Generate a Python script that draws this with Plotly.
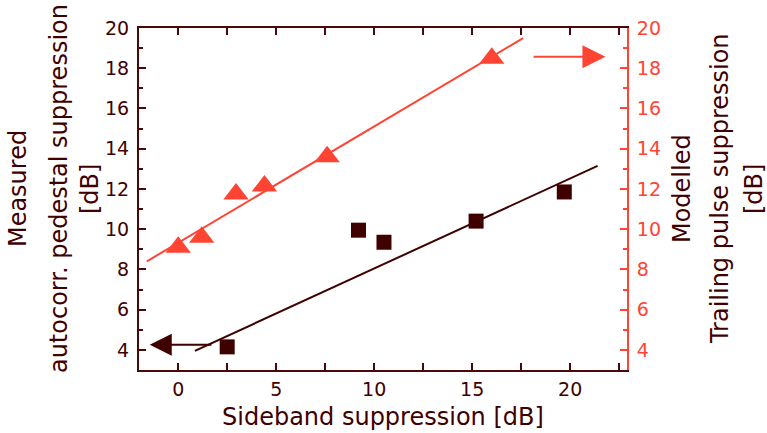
import plotly.graph_objects as go

# Measured autocorrelation pedestal suppression (left axis)
measured_x = [2.5, 9.2, 10.5, 15.2, 19.7]
measured_y = [4.15, 9.95, 9.35, 10.4, 11.85]

# Modelled trailing pulse suppression (right axis)
modelled_x = [0.0, 1.2, 2.95, 4.4, 7.6, 16.0]
modelled_y = [9.1, 9.6, 11.75, 12.15, 13.6, 18.5]

# Linear fits drawn as straight segments
fit_measured_x = [0.85, 21.4]
fit_measured_y = [3.95, 13.15]
fit_modelled_x = [-1.6, 17.6]
fit_modelled_y = [8.4, 19.5]

x_ticks = [0, 5, 10, 15, 20]
y_ticks = [4, 6, 8, 10, 12, 14, 16, 18, 20]

DARK = "#3f0000"
AXIS_DARK = "#4a0808"
RED = "#ff4433"
FONT = "DejaVu Sans"

fig = go.Figure()

fig.add_trace(go.Scatter(
    x=fit_modelled_x, y=fit_modelled_y, mode="lines",
    line=dict(color=RED, width=2), yaxis="y2", showlegend=False,
))
fig.add_trace(go.Scatter(
    x=fit_measured_x, y=fit_measured_y, mode="lines",
    line=dict(color=DARK, width=2), showlegend=False,
))
fig.add_trace(go.Scatter(
    x=modelled_x, y=modelled_y, mode="markers",
    marker=dict(symbol="triangle-up", size=22, color=RED),
    yaxis="y2", showlegend=False,
))
fig.add_trace(go.Scatter(
    x=measured_x, y=measured_y, mode="markers",
    marker=dict(symbol="square", size=15, color=DARK),
    showlegend=False,
))

tick_font_dark = dict(family=FONT, size=19, color=DARK)
tick_font_red = dict(family=FONT, size=19, color=RED)

fig.update_layout(
    width=767, height=433,
    margin=dict(l=139, r=140, t=28, b=63),
    paper_bgcolor="white", plot_bgcolor="white",
    xaxis=dict(
        range=[-2, 22.9], tickvals=x_ticks, ticks="inside", ticklen=7,
        tickwidth=1.5, tickcolor=AXIS_DARK, showline=True, linecolor=AXIS_DARK,
        linewidth=2, mirror="ticks", showgrid=False, zeroline=False,
        tickfont=tick_font_dark, ticklabelstandoff=1,
        minor=dict(dtick=2.5, tick0=0, ticks="inside", ticklen=7,
                   tickwidth=1.5, tickcolor=AXIS_DARK, showgrid=False),
    ),
    yaxis=dict(
        range=[3, 20], tickvals=y_ticks, ticks="inside", ticklen=7,
        tickwidth=1.5, tickcolor=AXIS_DARK, showline=True, linecolor=AXIS_DARK,
        linewidth=2, showgrid=False, zeroline=False,
        tickfont=tick_font_dark, ticklabelstandoff=4,
        minor=dict(dtick=1, tick0=0, ticks="inside", ticklen=4,
                   tickwidth=1.5, tickcolor=AXIS_DARK, showgrid=False),
    ),
    yaxis2=dict(
        range=[3, 20], tickvals=y_ticks, overlaying="y", side="right",
        ticks="inside", ticklen=7, tickwidth=1.5, tickcolor=RED,
        showline=True, linecolor=RED, linewidth=2, showgrid=False,
        zeroline=False, tickfont=tick_font_red, ticklabelstandoff=4,
        minor=dict(dtick=1, tick0=0, ticks="inside", ticklen=4,
                   tickwidth=1.5, tickcolor=RED, showgrid=False),
    ),
)

# Axis titles (multi-line, each line placed separately)
title_font = dict(family=FONT, size=24, color=DARK)
fig.add_annotation(
    text="Sideband suppression [dB]", xref="paper", yref="paper",
    x=0.5, y=-0.137, xanchor="center", yanchor="middle",
    showarrow=False, font=title_font,
)

left_lines = [("Measured", 18), ("autocorr. pedestal suppression", 59), ("[dB]", 90)]
right_lines = [("Modelled", 682), ("Trailing pulse suppression", 720), ("[dB]", 754)]
plot_left, plot_w = 139, 488
for text, px in left_lines + right_lines:
    fig.add_annotation(
        text=text, xref="paper", yref="paper",
        x=(px - plot_left) / plot_w, y=0.529, xanchor="center", yanchor="middle",
        textangle=-90, showarrow=False, font=title_font,
    )

# Arrows pointing to the axis each series belongs to
fig.add_annotation(
    x=-1.45, y=4.26, ax=1.77, ay=4.26, xref="x", yref="y", axref="x", ayref="y",
    text="", showarrow=True, arrowhead=2, arrowsize=2.2, arrowwidth=2,
    arrowcolor=DARK, standoff=0,
)
fig.add_annotation(
    x=21.8, y=18.57, ax=18.06, ay=18.57, xref="x", yref="y2", axref="x", ayref="y2",
    text="", showarrow=True, arrowhead=2, arrowsize=2.3, arrowwidth=2,
    arrowcolor=RED, standoff=0,
)

fig.write_html("out.html")
